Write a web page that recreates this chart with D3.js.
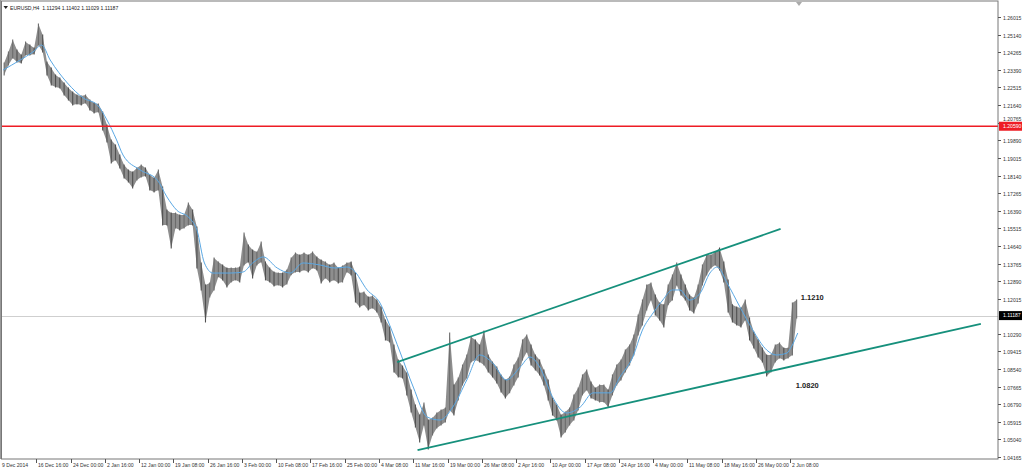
<!DOCTYPE html>
<html>
<head>
<meta charset="utf-8">
<title>EURUSD,H4</title>
<style>
  html, body { margin: 0; padding: 0; background: #fff; }
  svg { display: block; font-family: "Liberation Sans", Arial, sans-serif; }
</style>
</head>
<body>
<svg id="chart" width="1024" height="471"></svg>
<script src="https://cdnjs.cloudflare.com/ajax/libs/d3/7.8.5/d3.min.js"></script>
<script>
// one entry = 4 H4 bars (16 hours), starting 9 Dec 2014 08:00
const barHigh = [
  1.2373,1.2428,1.2487,1.2438,1.2413,1.2477,1.2462,1.2448,1.2567,1.2512,
  1.2378,1.2348,1.2314,1.2299,1.2274,1.2249,1.2229,1.2214,1.2209,1.2214,
  1.2189,1.2175,1.2170,1.2130,1.2065,1.1991,1.1966,1.1916,1.1867,1.1842,
  1.1832,1.1852,1.1867,1.1852,1.1817,1.1802,1.1842,1.1757,1.1643,1.1628,
  1.1628,1.1618,1.1618,1.1678,1.1643,1.1559,1.1380,1.1271,1.1281,1.1405,
  1.1385,1.1370,1.1355,1.1355,1.1355,1.1360,1.1529,1.1469,1.1445,1.1435,
  1.1484,1.1385,1.1355,1.1335,1.1330,1.1330,1.1345,1.1405,1.1430,1.1420,
  1.1430,1.1420,1.1435,1.1410,1.1395,1.1385,1.1370,1.1380,1.1355,1.1365,
  1.1380,1.1385,1.1330,1.1231,1.1236,1.1211,1.1216,1.1196,1.1162,1.1097,
  1.1062,1.0973,1.0898,1.0868,1.0834,1.0749,1.0675,1.0625,1.0685,1.0600,
  1.0610,1.0635,1.0650,1.0660,1.1032,1.0774,1.0809,1.0873,1.0923,1.1013,
  1.0998,1.0973,1.1042,1.0923,1.0888,1.0863,1.0824,1.0799,1.0814,1.0873,
  1.0908,1.0998,1.1022,1.0973,1.0923,1.0898,1.0849,1.0799,1.0710,1.0675,
  1.0625,1.0640,1.0660,1.0725,1.0759,1.0824,1.0849,1.0789,1.0759,1.0774,
  1.0774,1.0749,1.0824,1.0873,1.0898,1.0948,1.0973,1.1022,1.1122,1.1196,
  1.1271,1.1281,1.1221,1.1181,1.1172,1.1271,1.1320,1.1380,1.1320,1.1271,
  1.1221,1.1206,1.1271,1.1370,1.1420,1.1420,1.1435,1.1454,1.1385,1.1296,
  1.1172,1.1162,1.1157,1.1196,1.1107,1.1037,1.0998,1.0958,1.0923,1.0923,
  1.0973,1.0983,1.0958,1.0958,1.1181,1.1196
];
const barLow = [
  1.2314,1.2363,1.2398,1.2378,1.2373,1.2413,1.2413,1.2418,1.2462,1.2428,
  1.2314,1.2264,1.2254,1.2249,1.2214,1.2189,1.2165,1.2170,1.2165,1.2175,
  1.2140,1.2125,1.2130,1.2040,1.1981,1.1877,1.1891,1.1852,1.1802,1.1782,
  1.1752,1.1792,1.1807,1.1812,1.1742,1.1733,1.1742,1.1569,1.1569,1.1454,
  1.1554,1.1544,1.1554,1.1569,1.1569,1.1355,1.1246,1.1087,1.1211,1.1246,
  1.1311,1.1296,1.1261,1.1286,1.1296,1.1286,1.1370,1.1385,1.1306,1.1370,
  1.1385,1.1296,1.1286,1.1266,1.1271,1.1261,1.1276,1.1321,1.1335,1.1335,
  1.1345,1.1335,1.1355,1.1345,1.1281,1.1306,1.1286,1.1296,1.1281,1.1286,
  1.1335,1.1320,1.1186,1.1162,1.1172,1.1147,1.1157,1.1137,1.1087,1.0998,
  1.0988,1.0839,1.0814,1.0809,1.0725,1.0640,1.0566,1.0491,1.0576,1.0456,
  1.0526,1.0561,1.0576,1.0590,1.0650,1.0625,1.0700,1.0774,1.0809,1.0888,
  1.0898,1.0888,1.0873,1.0839,1.0814,1.0784,1.0739,1.0710,1.0735,1.0774,
  1.0814,1.0898,1.0938,1.0873,1.0849,1.0824,1.0774,1.0700,1.0625,1.0600,
  1.0516,1.0541,1.0576,1.0600,1.0650,1.0725,1.0749,1.0710,1.0700,1.0690,
  1.0690,1.0665,1.0725,1.0774,1.0799,1.0839,1.0873,1.0923,1.1022,1.1072,
  1.1147,1.1196,1.1122,1.1097,1.1062,1.1172,1.1196,1.1271,1.1221,1.1196,
  1.1147,1.1132,1.1181,1.1271,1.1320,1.1355,1.1370,1.1345,1.1286,1.1137,
  1.1087,1.1072,1.1062,1.1097,1.0998,1.0958,1.0913,1.0888,1.0819,1.0839,
  1.0888,1.0908,1.0898,1.0908,1.0923,1.1107
];

// moving average (H4 bar index, price)
const maBar = [1,17,29,37,45,61,76,89,98,107,113,129,145,154,163,175,182,189,197,213,
  225,234,244,257,269,281,297,311,322,328,341,353,360,372,384,397,409,421,434,446,
  458,471,484,493,502,514,527,540,552,568,577,589,598,608,617,626,633,642,652,661,
  668,677,689,701,714,723,733,737,743];
const maPrice = [1.2338,1.2388,1.2428,1.2462,1.2388,1.2274,1.2199,1.2165,1.2090,1.1991,
  1.1916,1.1842,1.1792,1.1708,1.1643,1.1603,1.1544,1.1380,1.1330,1.1330,
  1.1335,1.1380,1.1410,1.1355,1.1330,1.1380,1.1370,1.1355,1.1360,1.1345,
  1.1246,1.1181,1.1097,1.0933,1.0764,1.0615,1.0600,1.0665,1.0799,1.0923,
  1.0884,1.0799,1.0864,1.0913,1.0864,1.0715,1.0635,1.0665,1.0735,1.0735,
  1.0814,1.0913,1.1047,1.1132,1.1196,1.1246,1.1246,1.1196,1.1231,1.1330,
  1.1360,1.1281,1.1162,1.1047,1.0948,1.0923,1.0933,1.0963,1.1032];

const priceTicks = [1.26015,1.25140,1.24265,1.23390,1.22515,1.21640,1.20765,1.19890,
  1.19015,1.18140,1.17265,1.16390,1.15515,1.14640,1.13765,1.12890,1.12015,1.10290,
  1.09415,1.08540,1.07665,1.06790,1.05915,1.05040,1.04165];
const timeLabels = ["9 Dec 2014","16 Dec 16:00","24 Dec 00:00","2 Jan 16:00","12 Jan 00:00",
  "19 Jan 08:00","26 Jan 16:00","3 Feb 00:00","10 Feb 08:00","17 Feb 16:00","25 Feb 00:00",
  "4 Mar 08:00","11 Mar 16:00","19 Mar 00:00","26 Mar 08:00","2 Apr 16:00","10 Apr 00:00",
  "17 Apr 08:00","24 Apr 16:00","4 May 00:00","11 May 08:00","18 May 16:00","26 May 00:00",
  "2 Jun 08:00"];

const upperChannel = [[369, 1.0888], [727, 1.1549]];
const lowerChannel = [[388, 1.0451], [914, 1.1077]];
const resistance = 1.20590;
const lastPrice = 1.11187;
const notes = [{ text: "1.1210", price: 1.1210 }, { text: "1.0820", price: 1.0820 }];
const title = "EURUSD,H4  1.11294 1.11402 1.11029 1.11187";

const W = 1024, H = 471;
const plotLeft = 2, plotRight = 998, plotTop = 1.5, plotBottom = 459;
const barsPerEntry = 4, barsPerLabel = 32;
const fs = 5.1;

const svg = d3.select('#chart');
const x = d3.scaleLinear().domain([0, 930]).range([plotLeft, plotRight]);
const y = d3.scaleLinear().domain([1.04165, 1.26015]).range([457, 17]);

svg.append('rect').attr('width', W).attr('height', H).attr('fill', '#fff');

const plot = svg.append('g');
plot.append('clipPath').attr('id', 'clip')
  .append('rect').attr('x', plotLeft).attr('y', plotTop)
  .attr('width', plotRight - plotLeft).attr('height', plotBottom - plotTop);

// current price line
plot.append('line')
  .attr('x1', plotLeft).attr('x2', plotRight)
  .attr('y1', Math.round(y(lastPrice)) + 0.5).attr('y2', Math.round(y(lastPrice)) + 0.5)
  .attr('stroke', '#cfcfcf').attr('stroke-width', 1);

// price bars: a band from low to high, then one stroke per entry
const entries = barHigh.map((h, i) => ({ i, h, l: barLow[i], m: (h + barLow[i]) / 2 }));
const cx = d => x(d.i * barsPerEntry + barsPerEntry / 2);
const bars = plot.append('g').attr('clip-path', 'url(#clip)');
bars.append('path').datum(entries)
  .attr('d', d3.area().x(cx).y0(d => y(d.l)).y1(d => y(d.h)))
  .attr('fill', '#8e8e8e');
bars.selectAll('line').data(entries).enter().append('line')
  .attr('x1', cx).attr('x2', cx)
  .attr('y1', d => y(d.h) - 0.5).attr('y2', d => y(d.l) + 0.5)
  .attr('stroke', (d, i) => i > 0 && d.m < entries[i - 1].m ? '#505050' : '#6c6c6c')
  .attr('stroke-width', 1.1);

// moving average
const maLine = d3.line()
  .x((d, i) => x(maBar[i]))
  .y(d => y(d))
  .curve(d3.curveMonotoneX);
plot.append('path').datum(maPrice)
  .attr('d', maLine).attr('fill', 'none')
  .attr('stroke', '#5aa8e4').attr('stroke-width', 1);

// channel lines
[upperChannel, lowerChannel].forEach(c => {
  plot.append('line')
    .attr('x1', x(c[0][0])).attr('y1', y(c[0][1]))
    .attr('x2', x(c[1][0])).attr('y2', y(c[1][1]))
    .attr('stroke', '#16907c').attr('stroke-width', 1.8);
});

// resistance line
plot.append('line')
  .attr('x1', plotLeft).attr('x2', plotRight)
  .attr('y1', y(resistance)).attr('y2', y(resistance))
  .attr('stroke', '#ee1c24').attr('stroke-width', 1.6);

// notes
const lastBar = barHigh.length * barsPerEntry;
svg.append('text').attr('x', x(lastBar) + 2).attr('y', y(notes[0].price) + 3)
  .attr('font-size', 7.5).attr('font-weight', 'bold').attr('fill', '#222').text(notes[0].text);
svg.append('text').attr('x', x(lastBar) - 3).attr('y', y(notes[1].price) + 12)
  .attr('font-size', 7.5).attr('font-weight', 'bold').attr('fill', '#222').text(notes[1].text);

// frame
svg.append('rect')
  .attr('x', plotLeft - 0.5).attr('y', plotTop - 0.5)
  .attr('width', plotRight - plotLeft + 0.5).attr('height', plotBottom - plotTop + 0.5)
  .attr('fill', 'none').attr('stroke', '#777').attr('stroke-width', 1);
svg.append('line').attr('x1', 0.5).attr('x2', 0.5).attr('y1', 0).attr('y2', plotBottom)
  .attr('stroke', '#999');

// shift marker
svg.append('path').attr('d', 'M796,2 L802,2 L799,6 Z').attr('fill', '#aaa');

// title
svg.append('path').attr('d', 'M3.5,6 L8,6 L5.75,9 Z').attr('fill', '#222');
svg.append('text').attr('x', 10).attr('y', 9.5).attr('font-size', fs)
  .attr('fill', '#222').style('white-space', 'pre').text(title);

// price axis
const tagHalf = 4.5;
const tagged = [resistance, lastPrice];
const yAxis = svg.append('g');
priceTicks.forEach(p => {
  const yy = Math.round(y(p)) + 0.5;
  // labels partly covered by a price tag are pushed up, as the terminal does
  const hit = tagged.find(t => Math.abs(y(t) - yy) < tagHalf + 4);
  const ty = hit !== undefined ? y(hit) - tagHalf - 1 : yy + 2;
  yAxis.append('line').attr('x1', plotRight).attr('x2', plotRight + 3).attr('y1', yy).attr('y2', yy)
    .attr('stroke', '#555');
  yAxis.append('text').attr('x', plotRight + 5).attr('y', ty)
    .attr('font-size', fs).attr('fill', '#333').text(d3.format('.5f')(p));
});

function priceTag(p, fill) {
  const yy = y(p);
  yAxis.append('rect').attr('x', plotRight + 1).attr('y', yy - tagHalf).attr('width', 23).attr('height', tagHalf * 2)
    .attr('fill', fill);
  yAxis.append('text').attr('x', plotRight + 5).attr('y', yy + 1.8)
    .attr('font-size', fs).attr('fill', '#fff').text(d3.format('.5f')(p));
}
priceTag(resistance, '#ee1c24');
priceTag(lastPrice, '#000');

// time axis
const xAxis = svg.append('g');
timeLabels.forEach((t, i) => {
  const xx = Math.round(x(i * barsPerLabel)) + 0.5;
  if (i > 0) {
    xAxis.append('line').attr('x1', xx).attr('x2', xx).attr('y1', plotBottom).attr('y2', plotBottom + 4)
      .attr('stroke', '#555');
  }
  xAxis.append('text').attr('x', i === 0 ? 2 : xx + 1.5).attr('y', plotBottom + 8)
    .attr('font-size', fs).attr('fill', '#333').text(t);
});
</script>
</body>
</html>
